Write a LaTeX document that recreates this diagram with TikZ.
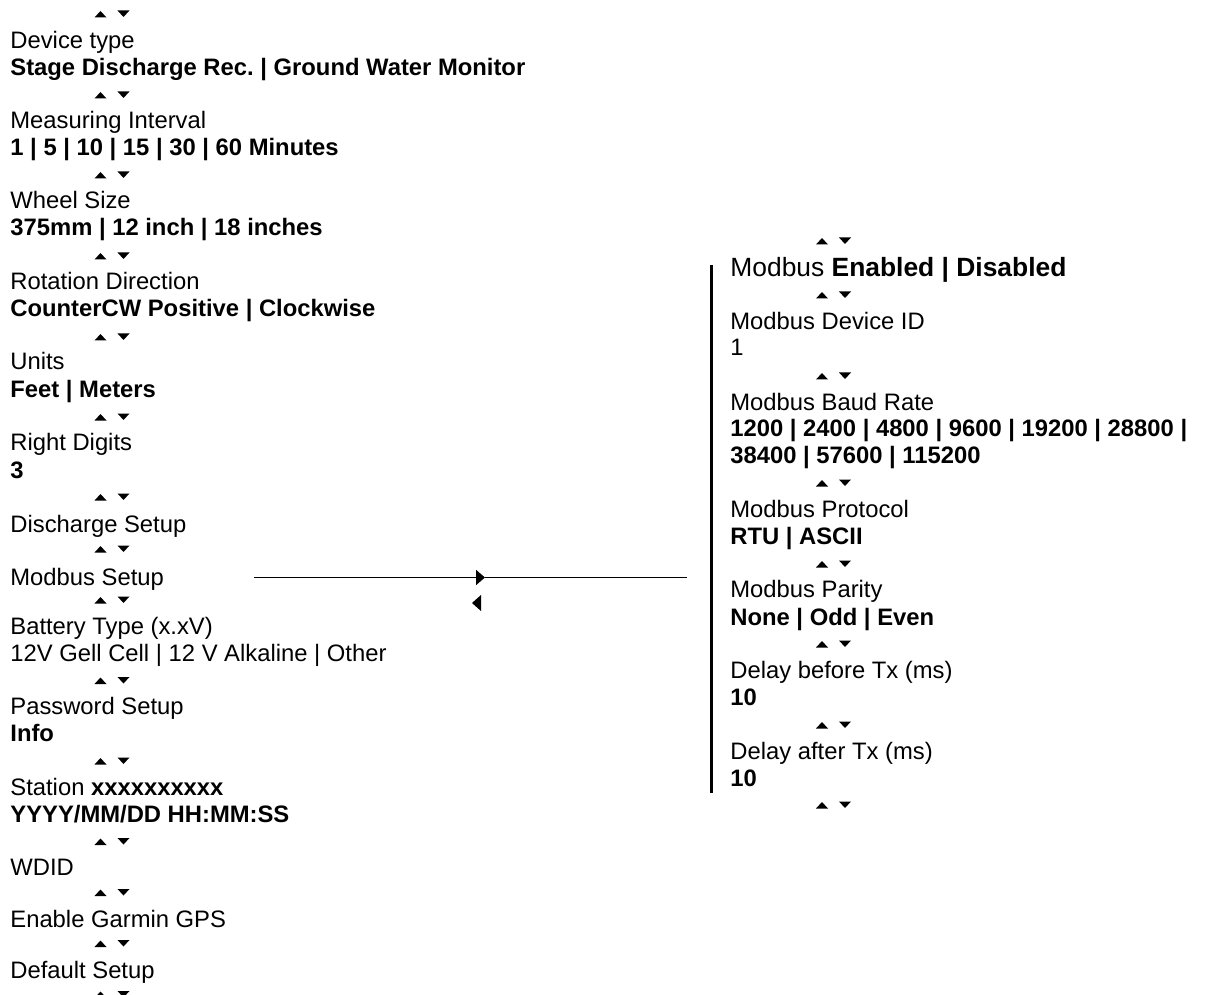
\documentclass[tikz,border=0pt]{standalone}
\usepackage{fontspec}
\setmainfont{Liberation Sans}
\frenchspacing
\usetikzlibrary{arrows.meta}
\tikzset{
  item/.style={anchor=base west, inner sep=0pt, font=\fontsize{11.9}{14}\selectfont},
  value/.style={item, font=\fontsize{11.9}{14}\selectfont\bfseries},
  head/.style={item, font=\fontsize{13.2}{16}\selectfont},
  link/.style={line width=0.85pt},
  bar/.style={line width=1.5pt},
  updown/.pic={
    \fill (-17.5,3.5) -- (-5.5,3.5) -- (-11.5,-3) -- cycle;
    \fill (5.5,-3.5) -- (17.5,-3.5) -- (11.5,3) -- cycle;
  },
}

\begin{document}
\begin{tikzpicture}[x=0.5pt, y=-0.5pt]
  \useasboundingbox (0,0) rectangle (1207,995);

  % Main menu
  \node[item]  (devtype)     at (10,49)  {Device type};
  \node[value] (devtypeval)  at (10,76)  {Stage Discharge Rec. | Ground Water Monitor};
  \node[item]  (interval)    at (10,129) {Measuring Interval};
  \node[value] (intervalval) at (10,156) {1 | 5 | 10 | 15 | 30 | 60 Minutes};
  \node[item]  (wheel)       at (10,209) {Wheel Size};
  \node[value] (wheelval)    at (10,236) {375mm | 12 inch | 18 inches};
  \node[item]  (rotation)    at (10,290) {Rotation Direction};
  \node[value] (rotationval) at (10,317) {CounterCW Positive | Clockwise};
  \node[item]  (units)       at (10,370) {Units};
  \node[value] (unitsval)    at (10,397) {Feet | Meters};
  \node[item]  (digits)      at (10,451) {Right Digits};
  \node[value] (digitsval)   at (10,478) {3};
  \node[item]  (discharge)   at (10,532) {Discharge Setup};
  \node[item]  (modsetup)    at (10,585) {Modbus Setup};
  \node[item]  (battery)     at (10,634) {Battery Type (x.xV)};
  \node[item]  (batteryval)  at (10,661) {12V Gell Cell | 12 V Alkaline | Other};
  \node[item]  (password)    at (10,714) {Password Setup};
  \node[value] (passwordval) at (10,741) {Info};
  \node[item]  (station)     at (10,795) {Station \textbf{xxxxxxxxxx}};
  \node[value] (stationval)  at (10,822) {YYYY/MM/DD HH:MM:SS};
  \node[item]  (wdid)        at (10,875) {WDID};
  \node[item]  (gps)         at (10,927) {Enable Garmin GPS};
  \node[item]  (default)     at (10,978) {Default Setup};

  % Up/down keys, main menu
  \foreach \y in {14,95,175,256,337,417,497,549,600,680.5,761,841.5,892.5,943.5,994.5}
    \pic at (112,\y) {updown};

  % Modbus submenu
  \node[head]  (modbus)      at (730,277) {Modbus \textbf{Enabled | Disabled}};
  \node[item]  (devid)       at (730,329) {Modbus Device ID};
  \node[item]  (devidval)    at (730,356) {1};
  \node[item]  (baud)        at (730,410) {Modbus Baud Rate};
  \node[value] (baudval)     at (730,437) {1200 | 2400 | 4800 | 9600 | 19200 | 28800 |};
  \node[value] (baudvalb)    at (730,464) {38400 | 57600 | 115200};
  \node[item]  (protocol)    at (730,517) {Modbus Protocol};
  \node[value] (protocolval) at (730,544) {RTU | ASCII};
  \node[item]  (parity)      at (730,597) {Modbus Parity};
  \node[value] (parityval)   at (730,625) {None | Odd | Even};
  \node[item]  (txbefore)    at (730,678) {Delay before Tx (ms)};
  \node[value] (txbeforeval) at (730,705) {10};
  \node[item]  (txafter)     at (730,759) {Delay after Tx (ms)};
  \node[value] (txafterval)  at (730,786) {10};

  % Up/down keys, submenu
  \foreach \y in {241,295,376,483,564,644,725,805}
    \pic at (833.5,\y) {updown};

  % Bracket and link to submenu
  \coordinate (bartop) at (711,265);
  \coordinate (barbot) at (711,793);
  \draw[bar] (bartop) -- (barbot);

  \coordinate (linkstart) at (254,577.5);
  \coordinate (linktip)   at (485,577.5);
  \coordinate (linkend)   at (687,577.5);
  \draw[link, -{Triangle[length=4.5pt, width=7.5pt]}] (linkstart) -- (linktip);
  \draw[link] (linktip) -- (linkend);

  % Back key
  \fill (481,595) -- (481,611) -- (472,603) -- cycle;
\end{tikzpicture}
\end{document}
